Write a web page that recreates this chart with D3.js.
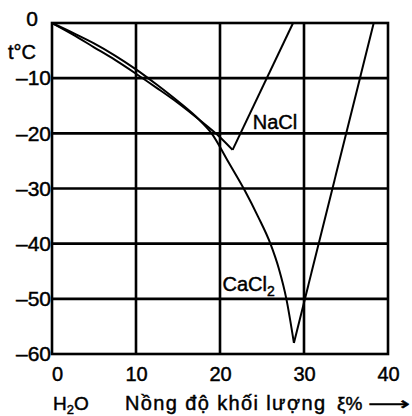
<!DOCTYPE html>
<html>
<head>
<meta charset="utf-8">
<script src="https://cdn.jsdelivr.net/npm/d3@7"></script>
<style>
  body { margin: 0; background: #fff; }
  text { font-family: "Liberation Sans", Arial, sans-serif; fill: #000; stroke: #000; stroke-width: 0.45px; }
</style>
</head>
<body>
<div id="chart"></div>
<script>
// tick values
var xTicks = [0, 10, 20, 30, 40];
var yTicks = [0, -10, -20, -30, -40, -50, -60];

// NaCl: ice branch (freezing curve) and salt branch after the eutectic
var naclIceX = [0, 2.5, 5, 7.5, 10, 12.5, 15, 17.5, 20, 21.5];
var naclIceT = [0, -2.1, -4.4, -6.7, -9.2, -11.8, -14.5, -17.5, -20.7, -23];
var naclSaltX = [21.5, 28.7];
var naclSaltT = [-23, 0];

// CaCl2
var caclIceX = [0, 2.5, 5, 7.5, 10, 12.5, 15, 17.5, 19, 21, 23, 24.5, 26, 27, 27.9, 28.8];
var caclIceT = [0, -1.8, -3.7, -5.9, -8.4, -11.2, -14.2, -17.5, -20, -25.2, -30.5, -35, -40, -44.5, -50, -58];
var caclSaltX = [28.8, 38.3];
var caclSaltT = [-58, 0];

var W = 412, H = 416;
var margin = {top: 23, right: 24, bottom: 62, left: 52},
    width = W - margin.left - margin.right,
    height = H - margin.top - margin.bottom;

var svg = d3.select("#chart").append("svg")
    .attr("width", W)
    .attr("height", H);

var g = svg.append("g")
    .attr("transform", "translate(" + margin.left + "," + margin.top + ")");

var x = d3.scaleLinear().domain([0, 40]).range([0, width]);
var y = d3.scaleLinear().domain([-60, 0]).range([height, 0]);

// grid
g.selectAll(".hgrid")
    .data(yTicks.slice(1, -1))
    .enter().append("line")
    .attr("x1", 0).attr("x2", width)
    .attr("y1", d => y(d)).attr("y2", d => y(d))
    .attr("stroke", "#000").attr("stroke-width", 2.6);

g.selectAll(".vgrid")
    .data(xTicks.slice(1, -1))
    .enter().append("line")
    .attr("y1", 0).attr("y2", height)
    .attr("x1", d => x(d)).attr("x2", d => x(d))
    .attr("stroke", "#000").attr("stroke-width", 2.6);

g.append("rect")
    .attr("width", width).attr("height", height)
    .attr("fill", "none").attr("stroke", "#000").attr("stroke-width", 2.6);

// axes (labels only)
var yAxis = d3.axisLeft(y).tickValues(yTicks).tickSize(0).tickPadding(1)
    .tickFormat(d => d < 0 ? "\u2013" + (-d) : "" + d);
var ya = g.append("g").call(yAxis);
ya.select(".domain").remove();
ya.selectAll("text")
    .style("font-size", "21px")
    .attr("fill", "#000");
ya.selectAll(".tick").filter(d => d === 0).select("text")
    .attr("x", -14).attr("dy", "0.1em");

var xAxis = d3.axisBottom(x).tickValues(xTicks).tickSize(0).tickPadding(13);
var xa = g.append("g").attr("transform", "translate(0," + height + ")").call(xAxis);
xa.select(".domain").remove();
xa.selectAll("text")
    .style("font-size", "20px")
    .attr("fill", "#000");
xa.selectAll(".tick").filter(d => d === 0).select("text").attr("x", 5);

// curves
var curve = d3.line().x(d => x(d[0])).y(d => y(d[1])).curve(d3.curveMonotoneX);
var straight = d3.line().x(d => x(d[0])).y(d => y(d[1]));

function pts(xs, ts) { return xs.map((v, i) => [v, ts[i]]); }

[[naclIceX, naclIceT, curve], [naclSaltX, naclSaltT, straight],
 [caclIceX, caclIceT, curve], [caclSaltX, caclSaltT, straight]].forEach(function(s) {
    g.append("path")
        .attr("d", s[2](pts(s[0], s[1])))
        .attr("fill", "none")
        .attr("stroke", "#000")
        .attr("stroke-width", 2);
});

// labels
g.append("text")
    .attr("x", x(23.9)).attr("y", y(-19.2))
    .style("font-size", "20px")
    .text("NaCl");

var cl = g.append("text")
    .attr("x", x(20.3)).attr("y", y(-48.6))
    .style("font-size", "20px")
    .text("CaCl");
cl.append("tspan").attr("dy", 5).style("font-size", "14px").text("2");

svg.append("text")
    .attr("x", 8).attr("y", 59)
    .style("font-size", "20px")
    .text("t\u00b0C");

var h2o = svg.append("text")
    .attr("x", 53).attr("y", 410)
    .style("font-size", "19px")
    .text("H");
h2o.append("tspan").attr("dy", 4).style("font-size", "13px").text("2");
h2o.append("tspan").attr("dy", -4).text("O");

svg.append("text")
    .attr("x", 125).attr("y", 410)
    .attr("textLength", 200).attr("lengthAdjust", "spacing")
    .style("font-size", "20px")
    .text("N\u1ed3ng \u0111\u1ed9 kh\u1ed1i l\u01b0\u1ee3ng");

svg.append("text")
    .attr("x", 337).attr("y", 410)
    .style("font-size", "19px")
    .text("\u03be%");

svg.append("text")
    .attr("x", 368).attr("y", 410)
    .attr("textLength", 42).attr("lengthAdjust", "spacingAndGlyphs")
    .style("font-family", "DejaVu Sans")
    .style("font-size", "18px")
    .text("\u27f6");
</script>
</body>
</html>
